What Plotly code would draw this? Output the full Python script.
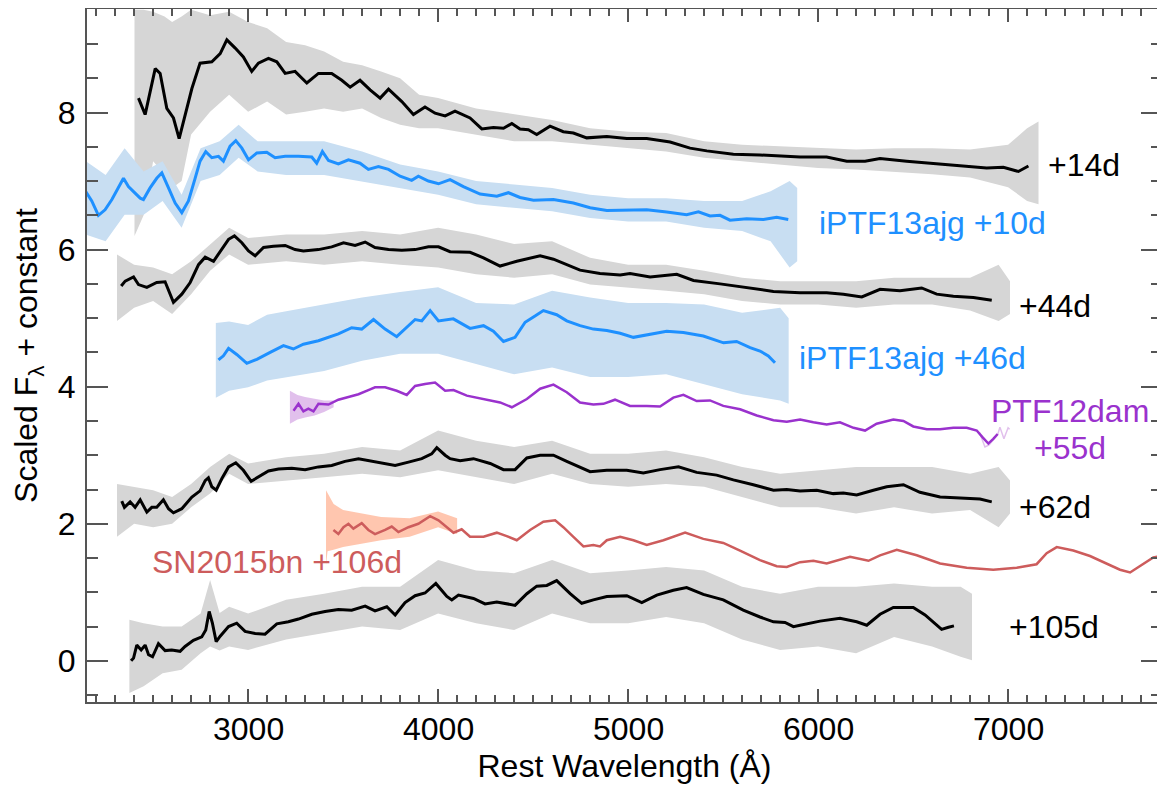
import plotly.graph_objects as go

# ---------------- data ----------------
# +14d (black)
sn14_wl = [2423,2458,2511,2537,2572,2607,2637,2668,2704,2747,
           2809,2853,2888,2932,2975,3019,3054,3107,3151,3195,
           3247,3309,3370,3440,3493,3537,3589,3642,3695,3739,
           3809,3870,3931,3984,4037,4089,4168,4230,4291,4344,
           4388,4431,4475,4519,4589,4659,4712,4782,4888,4993,
           5098,5221,5326,5414,5554,5694,5817,5905,6045,6151,
           6247,6326,6466,6607,6747,6887,6975,7054,7107]
sn14_flux = [8.21,7.97,8.64,8.57,8.06,7.92,7.62,7.97,8.35,8.72,
             8.74,8.86,9.06,8.94,8.81,8.60,8.72,8.79,8.74,8.57,
             8.60,8.43,8.57,8.57,8.47,8.37,8.47,8.33,8.21,8.34,
             8.16,7.97,8.08,7.99,7.95,8.02,7.92,7.76,7.78,7.77,
             7.84,7.76,7.75,7.68,7.80,7.72,7.70,7.63,7.65,7.62,
             7.62,7.57,7.48,7.44,7.39,7.38,7.36,7.35,7.35,7.29,
             7.29,7.33,7.29,7.26,7.23,7.19,7.20,7.14,7.22]
sn14_raw_wl = [2402,2450,2500,2560,2600,2650,2700,2800,2900,3000,3100,3200,3300,3400,3500,3600,3700,3800,3900,
               4000,4200,4400,4600,4800,5000,5200,5400,5600,5800,6000,6200,6400,6600,6800,7000,7100,7160]
sn14_raw_hi = [9.5,9.5,9.47,9.4,9.32,9.4,9.5,9.42,9.47,9.32,9.23,9.03,8.98,8.89,8.74,8.69,8.60,8.50,8.26,
               8.21,8.06,7.97,7.89,7.77,7.72,7.70,7.58,7.53,7.51,7.48,7.46,7.48,7.48,7.46,7.53,7.77,7.87]
sn14_raw_lo = [6.2,6.5,7.29,7.1,6.9,7.0,7.68,8.01,8.26,8.01,8.16,7.97,8.01,8.06,8.01,8.06,7.92,7.82,7.77,
               7.77,7.68,7.58,7.58,7.53,7.48,7.43,7.34,7.29,7.24,7.19,7.17,7.14,7.10,7.05,6.91,6.71,6.66]

# iPTF13ajg +10d (blue)
ajg10_wl = [2145,2177,2212,2247,2283,2318,2344,2370,2405,2432,
            2449,2484,2519,2546,2581,2616,2651,2686,2721,2747,
            2777,2809,2844,2870,2905,2935,2967,3002,3046,3098,
            3142,3195,3265,3335,3361,3391,3423,3475,3528,3589,
            3633,3686,3739,3800,3861,3896,3949,4002,4063,4133,
            4221,4309,4370,4431,4502,4607,4712,4800,4888,4993,
            5098,5203,5308,5370,5431,5484,5536,5624,5712,5782,
            5843]
ajg10_flux = [6.85,6.71,6.50,6.58,6.73,6.90,7.04,6.92,6.83,6.75,
              6.73,6.90,7.04,7.12,6.90,6.68,6.54,6.71,7.04,7.29,
              7.43,7.34,7.36,7.29,7.51,7.59,7.48,7.31,7.41,7.42,
              7.34,7.36,7.36,7.35,7.26,7.43,7.30,7.25,7.31,7.26,
              7.17,7.21,7.17,7.07,7.01,7.07,7.00,6.96,7.02,6.92,
              6.81,6.78,6.83,6.76,6.72,6.73,6.68,6.61,6.57,6.57,
              6.58,6.55,6.51,6.55,6.49,6.50,6.43,6.45,6.44,6.47,
              6.44]
ajg10_raw_wl = [2145,2250,2350,2450,2550,2650,2750,2850,2950,3050,3200,3400,3600,3800,4000,4200,4400,
                4600,4800,5000,5200,5400,5600,5750,5850,5890]
ajg10_raw_hi = [7.29,7.09,7.48,7.14,7.29,6.80,7.48,7.58,7.82,7.58,7.58,7.58,7.43,7.24,7.14,7.00,6.95,
                6.90,6.80,6.75,6.75,6.71,6.71,6.85,7.00,6.90]
ajg10_raw_lo = [6.22,6.12,6.51,6.51,6.71,6.32,7.00,7.09,7.34,7.14,7.09,7.09,7.00,6.90,6.80,6.66,6.61,
                6.56,6.46,6.41,6.41,6.32,6.27,6.12,5.74,5.83]

# +44d (black)
sn44_wl = [2332,2353,2397,2423,2467,2493,2519,2563,2581,2607,
           2651,2695,2739,2774,2818,2853,2897,2928,2967,3002,
           3037,3081,3133,3195,3247,3291,3370,3440,3502,3563,
           3616,3668,3739,3809,3879,3949,4002,4063,4168,4239,
           4326,4414,4537,4607,4677,4747,4852,4958,5010,5116,
           5256,5344,5484,5624,5765,5905,6045,6133,6230,6326,
           6431,6545,6624,6712,6817,6914]
sn44_flux = [5.47,5.54,5.60,5.49,5.45,5.49,5.52,5.53,5.40,5.23,
             5.35,5.52,5.78,5.89,5.83,5.98,6.15,6.20,6.10,5.98,
             5.91,6.03,6.05,6.06,6.00,5.98,6.00,6.04,6.10,6.06,
             6.11,6.03,6.00,5.99,6.00,6.04,6.04,5.97,5.96,5.88,
             5.76,5.83,5.91,5.86,5.78,5.70,5.65,5.63,5.65,5.60,
             5.64,5.55,5.50,5.44,5.39,5.37,5.37,5.35,5.31,5.42,
             5.40,5.44,5.35,5.32,5.30,5.26]
sn44_raw_wl = [2310,2400,2500,2600,2700,2800,2900,3000,3200,3400,3600,3800,4000,4200,4400,4600,4800,
               5000,5200,5400,5600,5800,6000,6200,6400,6600,6800,6950,7010]
sn44_raw_hi = [5.93,5.78,5.74,5.64,5.83,6.08,6.32,6.17,6.22,6.22,6.27,6.22,6.32,6.22,6.08,6.12,5.88,
               5.78,5.78,5.69,5.59,5.54,5.54,5.54,5.59,5.59,5.59,5.78,5.54]
sn44_raw_lo = [4.96,5.15,5.25,5.06,5.35,5.69,5.93,5.78,5.83,5.78,5.83,5.78,5.74,5.64,5.59,5.64,5.49,
               5.44,5.40,5.35,5.25,5.20,5.20,5.15,5.20,5.20,5.11,4.96,5.06]

# iPTF13ajg +46d (blue)
ajg46_wl = [2844,2870,2897,2940,2993,3046,3116,3186,3238,3291,
            3370,3475,3545,3598,3660,3721,3782,3826,3879,3914,
            3958,4002,4080,4168,4239,4291,4344,4405,4458,4510,
            4554,4624,4677,4747,4817,4888,4958,5028,5116,5203,
            5291,5396,5502,5571,5642,5694,5738,5773]
ajg46_flux = [4.39,4.45,4.56,4.47,4.34,4.40,4.50,4.60,4.55,4.62,
              4.67,4.77,4.86,4.84,4.98,4.84,4.73,4.84,4.98,4.96,
              5.11,4.96,4.99,4.85,4.89,4.81,4.66,4.72,4.94,5.03,
              5.11,5.05,4.96,4.89,4.84,4.82,4.78,4.72,4.77,4.81,
              4.79,4.74,4.64,4.66,4.57,4.52,4.45,4.35]
ajg46_raw_wl = [2830,2900,3000,3100,3200,3400,3600,3800,4000,4200,4400,4600,4800,5000,5200,5400,5600,5800,5845]
ajg46_raw_hi = [4.93,4.95,4.90,5.05,5.10,5.20,5.30,5.38,5.45,5.22,5.20,5.40,5.30,5.22,5.22,5.20,5.08,5.15,5.00]
ajg46_raw_lo = [3.84,3.94,3.99,4.09,4.14,4.23,4.38,4.48,4.48,4.33,4.18,4.28,4.14,4.14,4.18,4.04,3.89,3.80,3.75]

# PTF12dam +55d (purple)
dam55_wl = [3239,3265,3291,3317,3344,3370,3423,3475,3528,3581,
            3633,3668,3721,3782,3835,3879,3931,3984,4037,4081,
            4151,4239,4326,4388,4467,4537,4607,4677,4747,4817,
            4870,4931,5010,5098,5168,5238,5291,5361,5431,5501,
            5589,5677,5765,5835,5905,5975,6045,6115,6186,6247,
            6308,6396,6449,6501,6572,6642,6712,6782,6835,6866,
            6896,6922,6945]
dam55_flux = [3.65,3.75,3.64,3.68,3.64,3.75,3.74,3.81,3.85,3.89,
              3.95,3.99,3.99,3.94,3.88,4.01,4.04,4.06,3.94,3.95,
              3.87,3.82,3.77,3.70,3.82,3.97,4.03,3.92,3.77,3.74,
              3.75,3.81,3.72,3.72,3.71,3.84,3.88,3.79,3.80,3.72,
              3.67,3.58,3.51,3.49,3.52,3.48,3.45,3.48,3.40,3.36,
              3.46,3.52,3.50,3.42,3.38,3.38,3.40,3.40,3.36,3.26,
              3.17,3.24,3.31]
dam55_raw_wl = [3220,3260,3300,3350,3400,3450]
dam55_raw_hi = [3.94,3.88,3.85,3.82,3.80,3.80]
dam55_raw_lo = [3.46,3.52,3.55,3.58,3.63,3.70]
dam55_tail_wl = [6850,6878,6900,6920,6945,6957,6978,7000,7008]
dam55_tail_flux = [3.33,3.12,3.15,3.22,3.30,3.41,3.24,3.40,3.38]

# +62d (black)
sn62_wl = [2335,2349,2379,2405,2432,2467,2493,2519,2554,2581,
           2607,2651,2704,2747,2774,2791,2809,2832,2862,2897,
           2935,2975,3016,3054,3107,3160,3230,3300,3370,3440,
           3510,3581,3651,3721,3774,3844,3914,3966,3993,4037,
           4063,4116,4186,4274,4344,4405,4467,4537,4607,4677,
           4747,4800,4888,4993,5080,5168,5265,5361,5466,5554,
           5659,5765,5835,5905,5993,6080,6133,6203,6291,6361,
           6449,6536,6642,6747,6852,6914]
sn62_flux = [2.33,2.24,2.32,2.24,2.35,2.17,2.24,2.24,2.35,2.22,
             2.16,2.22,2.39,2.48,2.63,2.67,2.54,2.49,2.66,2.83,
             2.89,2.78,2.62,2.68,2.77,2.80,2.81,2.79,2.83,2.85,
             2.91,2.95,2.91,2.87,2.85,2.90,2.95,3.02,3.11,3.00,
             2.95,2.92,2.95,2.88,2.79,2.79,2.96,3.00,3.00,2.91,
             2.82,2.76,2.78,2.78,2.74,2.79,2.83,2.75,2.71,2.64,
             2.57,2.49,2.50,2.48,2.49,2.44,2.45,2.42,2.49,2.54,
             2.57,2.46,2.39,2.37,2.36,2.32]
sn62_raw_wl = [2310,2400,2500,2600,2700,2800,2900,3000,3200,3400,3600,3800,4000,4200,4400,4600,4800,
               5000,5200,5400,5600,5800,6000,6200,6400,6600,6800,6950,7010]
sn62_raw_hi = [2.58,2.54,2.49,2.39,2.58,2.83,3.02,2.88,2.97,3.02,3.12,3.07,3.36,3.21,3.12,3.21,3.02,
               3.02,3.07,2.97,2.83,2.73,2.78,2.83,2.83,2.83,2.73,2.83,2.63]
sn62_raw_lo = [1.81,2.00,1.95,2.00,2.24,2.44,2.73,2.58,2.63,2.68,2.73,2.68,2.78,2.68,2.58,2.73,2.58,
               2.54,2.58,2.54,2.39,2.24,2.24,2.15,2.24,2.15,2.20,1.95,2.15]

# SN2015bn +106d (red)
bn106_wl = [3449,3475,3502,3528,3554,3598,3633,3668,3721,3756,
            3791,3844,3896,3958,4002,4081,4124,4168,4239,4309,
            4361,4414,4484,4554,4616,4659,4712,4765,4817,4852,
            4888,4958,5028,5098,5186,5300,5396,5501,5589,5694,
            5782,5835,5905,5975,6045,6168,6265,6326,6414,6519,
            6642,6782,6922,7045,7150,7203,7256,7343,7431,7519,
            7589,7642,7712,7764,7815]
bn106_flux = [1.91,1.85,1.95,2.00,1.93,2.01,1.91,1.85,1.91,1.96,
              1.88,1.95,2.00,2.11,2.05,1.87,1.92,1.81,1.81,1.87,
              1.82,1.76,1.91,2.03,2.05,1.95,1.81,1.67,1.69,1.67,
              1.76,1.81,1.76,1.69,1.76,1.87,1.78,1.72,1.61,1.47,
              1.38,1.37,1.44,1.46,1.42,1.52,1.46,1.54,1.62,1.54,
              1.42,1.36,1.33,1.36,1.41,1.57,1.66,1.61,1.53,1.42,
              1.33,1.29,1.41,1.51,1.53]
bn106_raw_wl = [3410,3418,3450,3500,3600,3700,3850,4000,4100]
bn106_raw_hi = [2.49,2.45,2.29,2.20,2.15,2.10,2.08,2.18,2.08]
bn106_raw_lo = [1.40,1.60,1.62,1.66,1.71,1.76,1.81,1.95,1.85]

# +105d (black)
sn105_wl = [2384,2397,2414,2437,2458,2476,2497,2528,2563,2598,
            2642,2668,2712,2756,2777,2795,2812,2832,2853,2897,
            2940,2984,3037,3089,3151,3212,3265,3335,3405,3475,
            3545,3616,3668,3730,3774,3826,3879,3931,3988,4046,
            4072,4107,4186,4247,4309,4405,4467,4519,4572,4624,
            4695,4756,4817,4888,4993,5072,5151,5238,5308,5396,
            5501,5606,5694,5765,5826,5870,5905,6010,6115,6203,
            6256,6326,6396,6501,6563,6615,6650,6686,6715]
sn105_flux = [0.00,0.04,0.23,0.16,0.23,0.09,0.06,0.25,0.15,0.16,
              0.14,0.21,0.30,0.35,0.45,0.72,0.55,0.28,0.36,0.50,
              0.55,0.43,0.40,0.39,0.54,0.57,0.61,0.68,0.72,0.75,
              0.74,0.80,0.73,0.79,0.67,0.85,0.95,0.99,1.13,0.94,
              0.89,0.96,0.91,0.83,0.86,0.81,0.98,1.09,1.10,1.17,
              0.98,0.84,0.89,0.94,0.95,0.85,0.96,1.03,1.07,0.97,
              0.89,0.74,0.64,0.57,0.56,0.50,0.52,0.58,0.62,0.57,
              0.52,0.68,0.78,0.78,0.67,0.54,0.46,0.49,0.51]
sn105_raw_wl = [2375,2450,2550,2650,2750,2800,2850,2900,3000,3200,3400,3600,3800,4000,4200,4400,4600,
                4800,5000,5200,5400,5600,5800,6000,6200,6400,6600,6750,6810]
sn105_raw_hi = [0.60,0.55,0.50,0.50,0.69,1.18,0.70,0.79,0.69,0.89,0.98,1.08,1.08,1.47,1.32,1.28,1.47,
                1.28,1.32,1.37,1.32,1.08,0.98,1.08,1.08,1.13,1.08,1.08,0.98]
sn105_raw_lo = [-0.47,-0.37,-0.18,-0.13,0.11,0.21,0.15,0.21,0.16,0.31,0.40,0.50,0.45,0.69,0.55,0.45,0.69,
                0.55,0.55,0.64,0.55,0.31,0.16,0.21,0.11,0.35,0.21,0.06,0.01]

x_tick_vals = [3000, 4000, 5000, 6000, 7000]
x_tick_text = ["3000", "4000", "5000", "6000", "7000"]
y_tick_vals = [0, 2, 4, 6, 8]

# ---------------- styling ----------------
FONT = "Liberation Sans, Arial, Helvetica, sans-serif"
FS = 32
BLACK = "#000000"
GRAY = "#d6d6d6"
BLUE = "#1e90ff"
LBLUE = "#c8def2"
PURPLE = "#9a32cd"
LPURPLE = "rgba(200,140,220,0.55)"
RED = "#cd5c5c"
SALMON = "rgba(255,160,122,0.6)"
AXC = "#555555"

fig = go.Figure()


def band(wl, hi, lo, color):
    fig.add_trace(go.Scatter(
        x=list(wl) + list(wl)[::-1], y=list(hi) + list(lo)[::-1],
        fill="toself", fillcolor=color, line=dict(width=0),
        mode="lines", hoverinfo="skip", showlegend=False))


def line(wl, fl, color, width):
    fig.add_trace(go.Scatter(x=wl, y=fl, mode="lines",
                             line=dict(color=color, width=width),
                             hoverinfo="skip", showlegend=False))


band(sn14_raw_wl, sn14_raw_hi, sn14_raw_lo, GRAY)
band(ajg10_raw_wl, ajg10_raw_hi, ajg10_raw_lo, LBLUE)
band(sn44_raw_wl, sn44_raw_hi, sn44_raw_lo, GRAY)
band(ajg46_raw_wl, ajg46_raw_hi, ajg46_raw_lo, LBLUE)
band(dam55_raw_wl, dam55_raw_hi, dam55_raw_lo, LPURPLE)
line(dam55_tail_wl, dam55_tail_flux, LPURPLE, 1.5)
band(sn62_raw_wl, sn62_raw_hi, sn62_raw_lo, GRAY)
band(bn106_raw_wl, bn106_raw_hi, bn106_raw_lo, SALMON)
band(sn105_raw_wl, sn105_raw_hi, sn105_raw_lo, GRAY)

line(sn14_wl, sn14_flux, BLACK, 3)
line(ajg10_wl, ajg10_flux, BLUE, 3)
line(sn44_wl, sn44_flux, BLACK, 3)
line(ajg46_wl, ajg46_flux, BLUE, 3)
line(dam55_wl, dam55_flux, PURPLE, 2.5)
line(sn62_wl, sn62_flux, BLACK, 3)
line(bn106_wl, bn106_flux, RED, 2.5)
line(sn105_wl, sn105_flux, BLACK, 3)

labels = [
    ("+14d", 7200, 7.24, BLACK),
    ("iPTF13ajg +10d", 5995, 6.39, BLUE),
    ("+44d", 7045, 5.18, BLACK),
    ("iPTF13ajg +46d", 5890, 4.42, BLUE),
    ("PTF12dam", 6900, 3.65, PURPLE),
    ("+55d", 7125, 3.11, PURPLE),
    ("+62d", 7045, 2.24, BLACK),
    ("SN2015bn +106d", 2485, 1.44, RED),
    ("+105d", 6995, 0.49, BLACK),
]
for txt, xx, yy, col in labels:
    fig.add_annotation(x=xx, y=yy, xref="x", yref="y", text=txt, showarrow=False,
                       xanchor="left", yanchor="middle",
                       font=dict(family=FONT, size=FS, color=col))

# x tick labels placed just under the axis (closer than plotly's default gap)
for v, t in zip(x_tick_vals, x_tick_text):
    fig.add_annotation(x=v, y=0, xref="x", yref="paper", text=t, showarrow=False,
                       xanchor="center", yanchor="middle", yshift=-27,
                       font=dict(family=FONT, size=FS, color="black"))

# the page body adds an 8 px offset, so the figure is 8 px smaller on each side
fig.update_layout(
    width=1157, height=780,
    margin=dict(l=79, r=3, t=1, b=86, autoexpand=False),
    plot_bgcolor="white", paper_bgcolor="white",
    font=dict(family=FONT, size=FS, color="black"),
    showlegend=False,
)
fig.update_xaxes(
    range=[2152, 7810], tickvals=x_tick_vals, showticklabels=False,
    ticks="inside", ticklen=13,
    tickwidth=1.5, tickcolor=AXC, showline=True, linecolor=AXC, linewidth=2,
    mirror="ticks", showgrid=False, zeroline=False,
    automargin=False,
    minor=dict(dtick=100, tick0=0, ticks="inside", ticklen=7, tickwidth=1.5,
               tickcolor=AXC, showgrid=False),
    title=dict(text="Rest Wavelength (Å)", font=dict(family=FONT, size=FS), standoff=52),
)
fig.update_yaxes(
    range=[-0.6, 9.51], tickvals=y_tick_vals, ticks="inside", ticklen=21,
    tickwidth=1.5, tickcolor=AXC, showline=True, linecolor=AXC, linewidth=2,
    mirror="ticks", showgrid=False, zeroline=False, ticklabelstandoff=3,
    automargin=False,
    minor=dict(dtick=0.5, tick0=0, ticks="inside", ticklen=11, tickwidth=1.5,
               tickcolor=AXC, showgrid=False),
    title=dict(text="Scaled F<sub>λ</sub> + constant", font=dict(family=FONT, size=FS), standoff=25),
)

fig.write_html("out.html")
